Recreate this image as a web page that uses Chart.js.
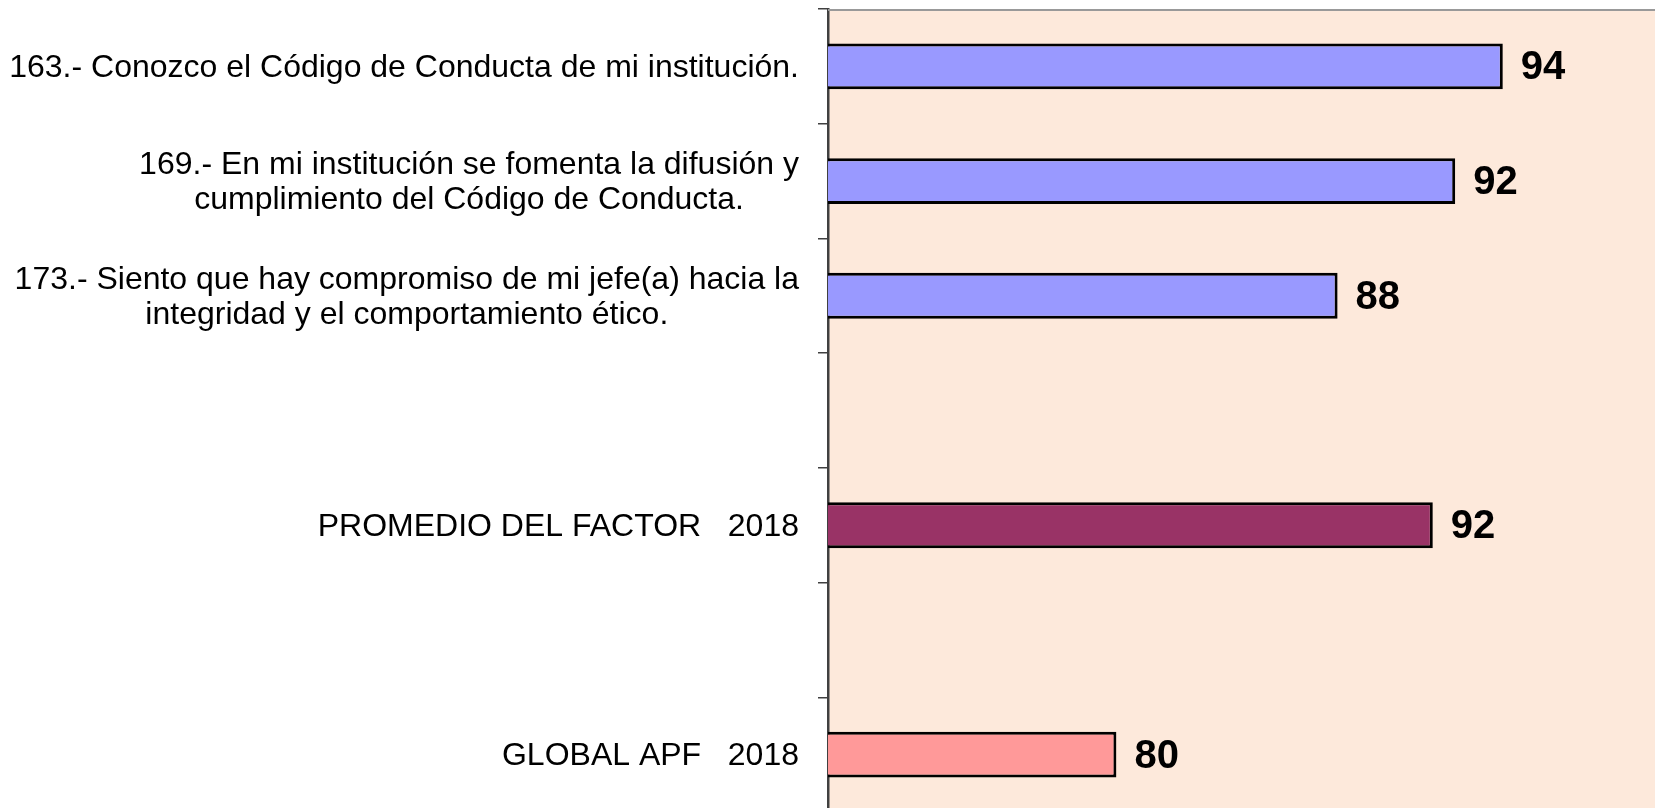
<!DOCTYPE html>
<html><head><meta charset="utf-8">
<script src="https://cdn.jsdelivr.net/npm/chart.js@4"></script>
<style>html,body{margin:0;padding:0;background:#fff;overflow:hidden;}
#wrap{position:relative;width:1668px;height:812px;}</style>
</head><body><div id="wrap"><canvas id="c"></canvas></div>
<script>
const categories = [
  ["163.- Conozco el Código de Conducta de mi institución."],
  ["169.- En mi institución se fomenta la difusión y", "cumplimiento del Código de Conducta."],
  ["173.- Siento que hay compromiso de mi jefe(a) hacia la", "integridad y el comportamiento ético."],
  [""],
  ["PROMEDIO DEL FACTOR   2018"],
  [""],
  ["GLOBAL APF   2018"]
];
const values = [94.1, 92.4, 88.2, null, 91.6, null, 80.3];
const barColors = ["#9999FF", "#9999FF", "#9999FF", "#9999FF", "#993366", "#9999FF", "#FF9999"];
const xMin = 70;
const xMax = 100;

const plotBg = {
  id: 'plotBg',
  beforeDraw(chart) {
    const {ctx, chartArea: a} = chart;
    ctx.save();
    ctx.fillStyle = '#FDE9DB';
    ctx.fillRect(a.left, a.top, a.right - a.left, a.bottom - a.top);
    ctx.restore();
  },
  afterDraw(chart) {
    const {ctx, chartArea: a} = chart;
    ctx.save();
    ctx.strokeStyle = '#999999';
    ctx.lineWidth = 2;
    ctx.beginPath();
    ctx.moveTo(a.left, a.top + 1);
    ctx.lineTo(a.right, a.top + 1);
    ctx.stroke();
    ctx.restore();
  }
};

const yLabels = {
  id: 'yLabels',
  afterDraw(chart) {
    const {ctx} = chart;
    const ys = chart.scales.y;
    const rightX = ys.right - 29;
    const lineH = 35;
    ctx.save();
    ctx.font = '32px "Liberation Sans", Arial, sans-serif';
    ctx.fillStyle = '#000';
    ctx.textBaseline = 'middle';
    ctx.textAlign = 'center';
    chart.data.labels.forEach((lab, i) => {
      const lines = Array.isArray(lab) ? lab : [lab];
      const cy = ys.getPixelForValue(i) + 2;
      const w = Math.max(...lines.map(l => ctx.measureText(l).width));
      const cx = rightX - w / 2;
      lines.forEach((ln, j) => {
        ctx.fillText(ln, cx, cy + (j - (lines.length - 1) / 2) * lineH);
      });
    });
    ctx.restore();
  }
};

const valueLabels = {
  id: 'valueLabels',
  afterDatasetsDraw(chart) {
    const {ctx} = chart;
    const meta = chart.getDatasetMeta(0);
    ctx.save();
    ctx.font = 'bold 40px "Liberation Sans", Arial, sans-serif';
    ctx.fillStyle = '#000';
    ctx.textBaseline = 'middle';
    ctx.textAlign = 'left';
    meta.data.forEach((bar, i) => {
      const v = chart.data.datasets[0].data[i];
      if (v == null) return;
      ctx.fillText(String(Math.round(v)), bar.x + 18, bar.y + 2);
    });
    ctx.restore();
  }
};

new Chart(document.getElementById('c'), {
  type: 'bar',
  data: {
    labels: categories,
    datasets: [{
      data: values,
      backgroundColor: barColors,
      borderColor: '#000000',
      borderWidth: 3,
      borderSkipped: false,
      categoryPercentage: 1.0,
      barPercentage: 0.4
    }]
  },
  options: {
    indexAxis: 'y',
    responsive: true,
    maintainAspectRatio: false,
    animation: false,
    layout: {padding: {top: 9, right: 0, bottom: 0, left: 0}},
    plugins: {legend: {display: false}, tooltip: {enabled: false}},
    scales: {
      x: {
        display: false,
        min: xMin,
        max: xMax
      },
      y: {
        offset: true,
        grid: {
          offset: true,
          drawOnChartArea: false,
          drawTicks: true,
          tickLength: 10,
          color: '#404040',
          lineWidth: 1.5
        },
        border: {display: true, color: '#404040', width: 2.5},
        ticks: {display: false},
        afterFit(scale) { scale.width = 828; }
      }
    }
  },
  plugins: [plotBg, yLabels, valueLabels]
});
</script>
</body></html>
